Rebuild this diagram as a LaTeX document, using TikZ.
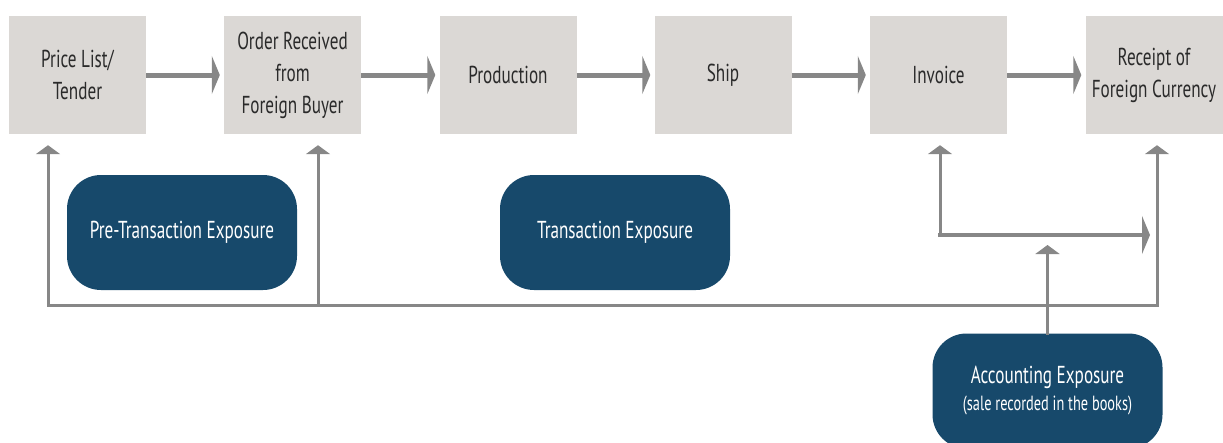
\documentclass[tikz,border=0pt]{standalone}
\usepackage{fontspec}
\setmainfont{PT Sans}[FakeStretch=0.7]
\usetikzlibrary{arrows.meta,positioning,calc}
\definecolor{StageGray}{HTML}{DBD8D5}
\definecolor{ExpoBlue}{HTML}{17496B}
\definecolor{LinkGray}{HTML}{878787}
\definecolor{InkDark}{HTML}{2A2A2A}

\begin{document}
\begin{tikzpicture}[x=1pt,y=-1pt,
  stage/.style={fill=StageGray,minimum width=137pt,minimum height=118pt,
    inner sep=0pt,align=center,text=InkDark,font=\fontsize{24.5}{32}\selectfont},
  expo/.style={fill=ExpoBlue,rounded corners=34pt,minimum width=230pt,
    minimum height=115pt,align=center,text=white,font=\fontsize{24.5}{27}\selectfont},
  flow/.style={LinkGray,line width=5pt,-{Triangle[length=8pt,width=38pt]},shorten >=4pt},
  link/.style={LinkGray,line width=3pt,line cap=rect},
  uparrow/.style={link,-{Triangle[length=9pt,width=24pt]},shorten >=11pt}]
\clip (0,0) rectangle (1223,442);
% stages of the sale
\node[stage] (price) at (77.5,75) {Price List/\\Tender};
\node[stage] (order) at (292.5,75) {Order Received\\from\\Foreign Buyer};
\node[stage] (prod) at (508,75) {Production};
\node[stage] (ship) at (723,75) {Ship};
\node[stage] (invoice) at (938.5,75) {Invoice};
\node[stage] (receipt) at (1154,75) {Receipt of\\Foreign Currency};
\foreach \a/\b in {price/order,order/prod,prod/ship,ship/invoice,invoice/receipt}
  \draw[flow] (\a) -- (\b);
% exposures
\node[expo] (pre) at (182,232.5) {Pre-Transaction Exposure};
\node[expo] (trans) at (615,232.5) {Transaction Exposure};
\node[expo] (acct) at (1047.5,391) {Accounting Exposure\\{\fontsize{20.5}{22}\selectfont(sale recorded in the books)}};
\coordinate (bl) at (48,305);
\coordinate (bm) at (318,305);
\coordinate (br) at (1157,305);
\coordinate (ij) at (940,235);
\coordinate (ie) at (1150,235);
\draw[link] (bl) -- (br);
\draw[uparrow] (bl) -- (bl |- price.south);
\draw[uparrow] (bm) -- (bm |- order.south);
\draw[uparrow] (br) -- (br |- receipt.south);
\draw[uparrow] (ij) -- (ij |- invoice.south);
\draw[flow,line width=4pt,line cap=rect,shorten >=0pt] (ij) -- (ie);
\draw[uparrow,shorten >=10pt] (acct) -- (acct |- ij);
\end{tikzpicture}
\end{document}
